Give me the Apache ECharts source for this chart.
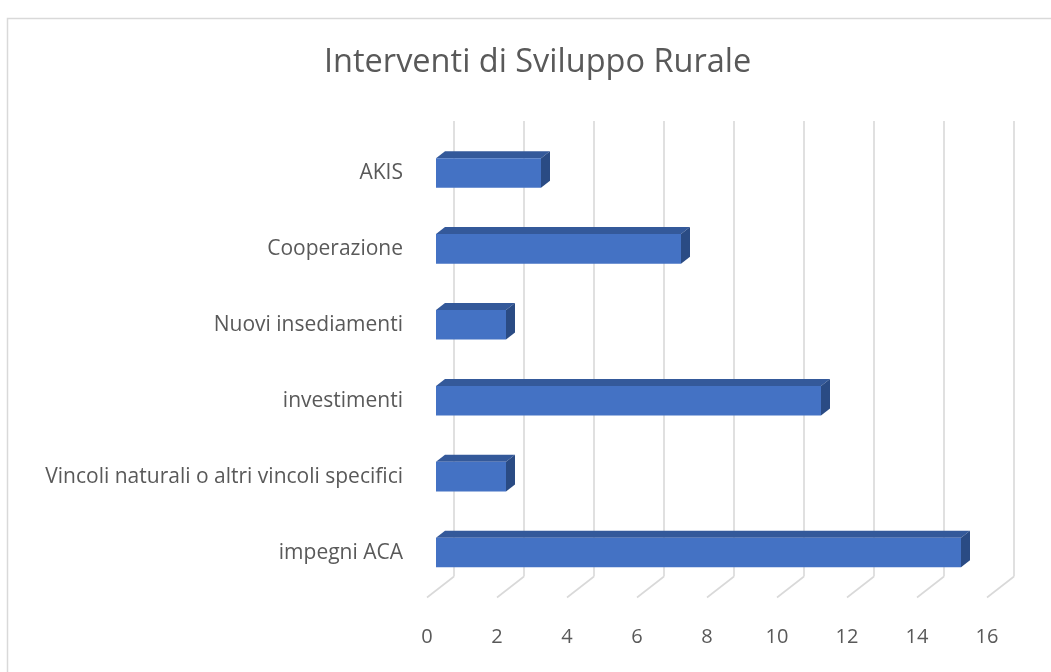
<!DOCTYPE html>
<html>
<head>
<meta charset="utf-8">
<title>Interventi di Sviluppo Rurale</title>
<script src="https://cdn.jsdelivr.net/npm/echarts@6/dist/echarts.min.js"></script>
<style>
    html, body { margin: 0; padding: 0; background: #fff; }
    #chart { width: 1051px; height: 672px; }
</style>
</head>
<body>
<div id="chart"></div>
<script>
// data (top to bottom as shown)
const categories = [
    'AKIS',
    'Cooperazione',
    'Nuovi insediamenti',
    'investimenti',
    'Vincoli naturali o altri vincoli specifici',
    'impegni ACA'
];
const values = [3, 7, 2, 11, 2, 15];
const xTicks = [0, 2, 4, 6, 8, 10, 12, 14, 16];

// one step of fake 3D depth, in px
const DX = 9;
const DY = -7;
const FONT = 'Open Sans';
const TEXT = '#595959';
const GRID_LINE = '#d9d9d9';

// back wall lines + floor lines, one per tick
function renderWall(params, api) {
    const cs = params.coordSys;
    const x = api.coord([api.value(0), 0])[0];
    const bottom = cs.y + cs.height;
    const style = { stroke: GRID_LINE, lineWidth: 1.6 };
    return {
        type: 'group',
        children: [
            {
                type: 'line',
                shape: { x1: x + 2 * DX, y1: cs.y + 2 * DY, x2: x + 2 * DX, y2: bottom + 2 * DY },
                style: style
            },
            {
                type: 'line',
                shape: { x1: x + 2 * DX, y1: bottom + 2 * DY, x2: x - DX, y2: bottom - DY },
                style: style
            }
        ]
    };
}

// box bar: front face, top face, right side
function renderBar(params, api) {
    const cat = api.value(1);
    const start = api.coord([0, cat]);
    const end = api.coord([api.value(0), cat]);
    const h = api.size([0, 1])[1] * 0.39;
    const top = start[1] - h / 2;
    const bot = start[1] + h / 2;
    const x0 = start[0];
    const x1 = end[0];
    return {
        type: 'group',
        children: [
            {
                type: 'polygon',
                shape: { points: [[x0, top], [x0 + DX, top + DY], [x1 + DX, top + DY], [x1, top]] },
                style: { fill: '#34599a' }
            },
            {
                type: 'polygon',
                shape: { points: [[x1, top], [x1 + DX, top + DY], [x1 + DX, bot + DY], [x1, bot]] },
                style: { fill: '#2a4b84' }
            },
            {
                type: 'rect',
                shape: { x: x0, y: top, width: x1 - x0, height: h },
                style: { fill: '#4472c4' }
            }
        ]
    };
}

const chart = echarts.init(document.getElementById('chart'));

chart.setOption({
    animation: false,
    backgroundColor: '#fff',
    title: {
        text: 'Interventi di Sviluppo Rurale',
        left: 319,
        top: 41,
        textStyle: {
            fontFamily: FONT,
            fontSize: 32.5,
            fontWeight: 'normal',
            color: TEXT
        }
    },
    graphic: [
        {
            type: 'rect',
            left: 5,
            top: 16,
            shape: { width: 1100, height: 700 },
            style: { fill: 'none', stroke: GRID_LINE, lineWidth: 1.5 },
            silent: true
        }
    ],
    grid: {
        left: 436,
        right: 55,
        top: 135,
        bottom: 81.5,
        containLabel: false
    },
    xAxis: {
        type: 'value',
        min: 0,
        max: 16,
        interval: 2,
        axisLine: { show: false },
        axisTick: { show: false },
        splitLine: { show: false },
        axisLabel: {
            margin: 37,
            padding: [0, 18, 0, 0],
            fontFamily: FONT,
            fontSize: 20,
            color: TEXT
        }
    },
    yAxis: {
        type: 'category',
        data: categories,
        inverse: true,
        axisLine: { show: false },
        axisTick: { show: false },
        splitLine: { show: false },
        axisLabel: {
            margin: 33,
            fontFamily: FONT,
            fontSize: 21,
            color: TEXT
        }
    },
    series: [
        {
            name: 'griglia',
            type: 'custom',
            renderItem: renderWall,
            data: xTicks.map(v => [v, 0]),
            encode: { x: 0, y: 1 },
            silent: true,
            z: 1
        },
        {
            name: 'Interventi',
            type: 'custom',
            renderItem: renderBar,
            data: values.map((v, i) => [v, i]),
            encode: { x: 0, y: 1 },
            z: 2
        }
    ]
});
</script>
</body>
</html>
